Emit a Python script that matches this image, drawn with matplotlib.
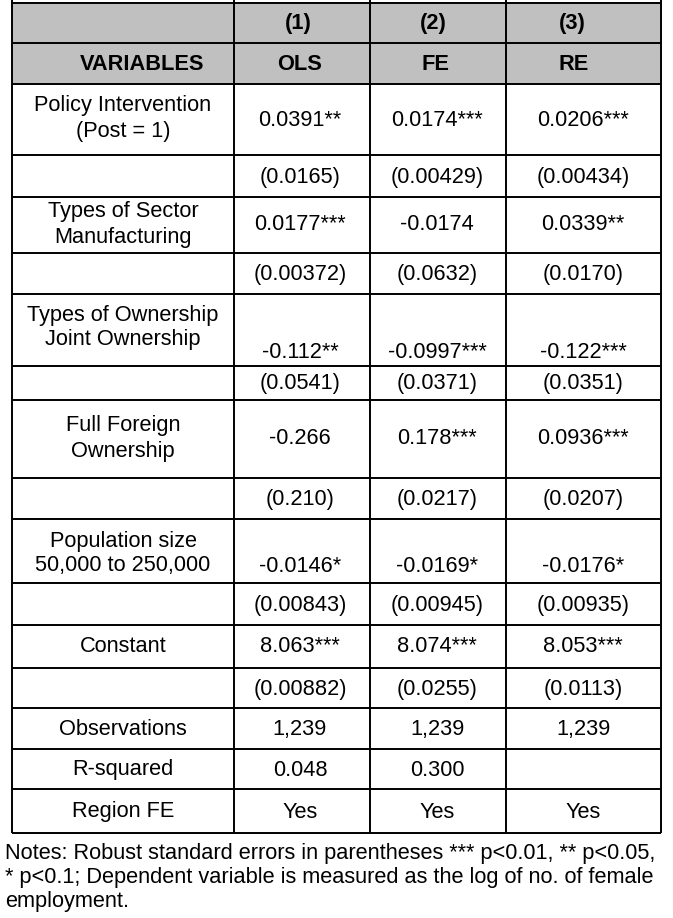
import matplotlib
matplotlib.use("Agg")
import matplotlib.pyplot as plt
from matplotlib.patches import Rectangle

plt.rcParams['font.family'] = ['Liberation Sans', 'DejaVu Sans']

# Table content
col_numbers = ['(1)', '(2)', '(3)']
models = ['OLS', 'FE', 'RE']
var_labels = [
    ['Policy Intervention', '(Post = 1)'],
    ['Types of Sector', 'Manufacturing'],
    ['Types of Ownership', 'Joint Ownership'],
    ['Full Foreign', 'Ownership'],
    ['Population size', '50,000 to 250,000'],
    ['Constant'],
]
coefs = [
    ['0.0391**', '0.0174***', '0.0206***'],
    ['0.0177***', '-0.0174', '0.0339**'],
    ['-0.112**', '-0.0997***', '-0.122***'],
    ['-0.266', '0.178***', '0.0936***'],
    ['-0.0146*', '-0.0169*', '-0.0176*'],
    ['8.063***', '8.074***', '8.053***'],
]
ses = [
    ['(0.0165)', '(0.00429)', '(0.00434)'],
    ['(0.00372)', '(0.0632)', '(0.0170)'],
    ['(0.0541)', '(0.0371)', '(0.0351)'],
    ['(0.210)', '(0.0217)', '(0.0207)'],
    ['(0.00843)', '(0.00945)', '(0.00935)'],
    ['(0.00882)', '(0.0255)', '(0.0113)'],
]
stat_labels = ['Observations', 'R-squared', 'Region FE']
stat_values = [
    ['1,239', '1,239', '1,239'],
    ['0.048', '0.300', ''],
    ['Yes', 'Yes', 'Yes'],
]
notes = [
    'Notes: Robust standard errors in parentheses *** p<0.01, ** p<0.05,',
    '* p<0.1; Dependent variable is measured as the log of no. of female',
    'employment.',
]

# Layout in pixel coordinates
W, H = 673, 918
col_x = [12, 234, 370, 506, 661]
label_cx = 123
val_cx = [300, 437, 583]
head_cx = [298, 433, 572]
row_y = [3, 43, 84, 155, 197, 253, 294, 366, 400, 478, 519, 583, 625, 668, 708, 749, 789, 833]
# vertical placement of the coefficient text and label lines in each variable row
coef_y = [120, 225, 352, 438, 566, 646]
label_y = [[106, 132], [212, 237], [315, 340], [426, 451], [541, 566], [646]]
fs = 15.7

fig = plt.figure(figsize=(W / 100, H / 100), dpi=100)
ax = fig.add_axes([0, 0, 1, 1])
ax.set_xlim(0, W)
ax.set_ylim(H, 0)
ax.axis('off')

# grey header
ax.add_patch(Rectangle((col_x[0], row_y[0]), col_x[-1] - col_x[0], row_y[2] - row_y[0],
                       facecolor='#c0c0c0', edgecolor='none'))

# grid lines
lw = 1.4
for y in row_y:
    ax.plot([col_x[0], col_x[-1]], [y, y], color='black', lw=lw, solid_capstyle='butt')
for x in col_x:
    ax.plot([x, x], [row_y[0] - 3, row_y[-1]], color='black', lw=lw, solid_capstyle='butt')

# header text
hy1 = (row_y[0] + row_y[1]) / 2 + 1
hy2 = (row_y[1] + row_y[2]) / 2 + 1
for i in range(3):
    ax.text(head_cx[i], hy1, col_numbers[i], ha='center', va='center', fontsize=fs, fontweight='bold')
    ax.text(head_cx[i] + 2, hy2, models[i], ha='center', va='center', fontsize=fs, fontweight='bold')
ax.text(142, hy2, 'VARIABLES', ha='center', va='center', fontsize=fs, fontweight='bold')

# variable rows
for k in range(len(var_labels)):
    for line, ly in zip(var_labels[k], label_y[k]):
        ax.text(label_cx, ly, line, ha='center', va='center', fontsize=fs)
    for i in range(3):
        ax.text(val_cx[i], coef_y[k], coefs[k][i], ha='center', va='center', fontsize=fs)
    r = 2 + 2 * k + 1
    sy = (row_y[r] + row_y[r + 1]) / 2 + 1
    for i in range(3):
        ax.text(val_cx[i], sy, ses[k][i], ha='center', va='center', fontsize=fs)

# statistics rows
for j in range(len(stat_labels)):
    r = 2 + 2 * len(var_labels) + j
    sy = (row_y[r] + row_y[r + 1]) / 2 + 1
    ax.text(label_cx, sy, stat_labels[j], ha='center', va='center', fontsize=fs)
    for i in range(3):
        ax.text(val_cx[i], sy, stat_values[j][i], ha='center', va='center', fontsize=fs)

# notes
for n, line in enumerate(notes):
    ax.text(5, 853 + 24 * n, line, ha='left', va='center', fontsize=fs)

fig.savefig('out.png', dpi=100)
